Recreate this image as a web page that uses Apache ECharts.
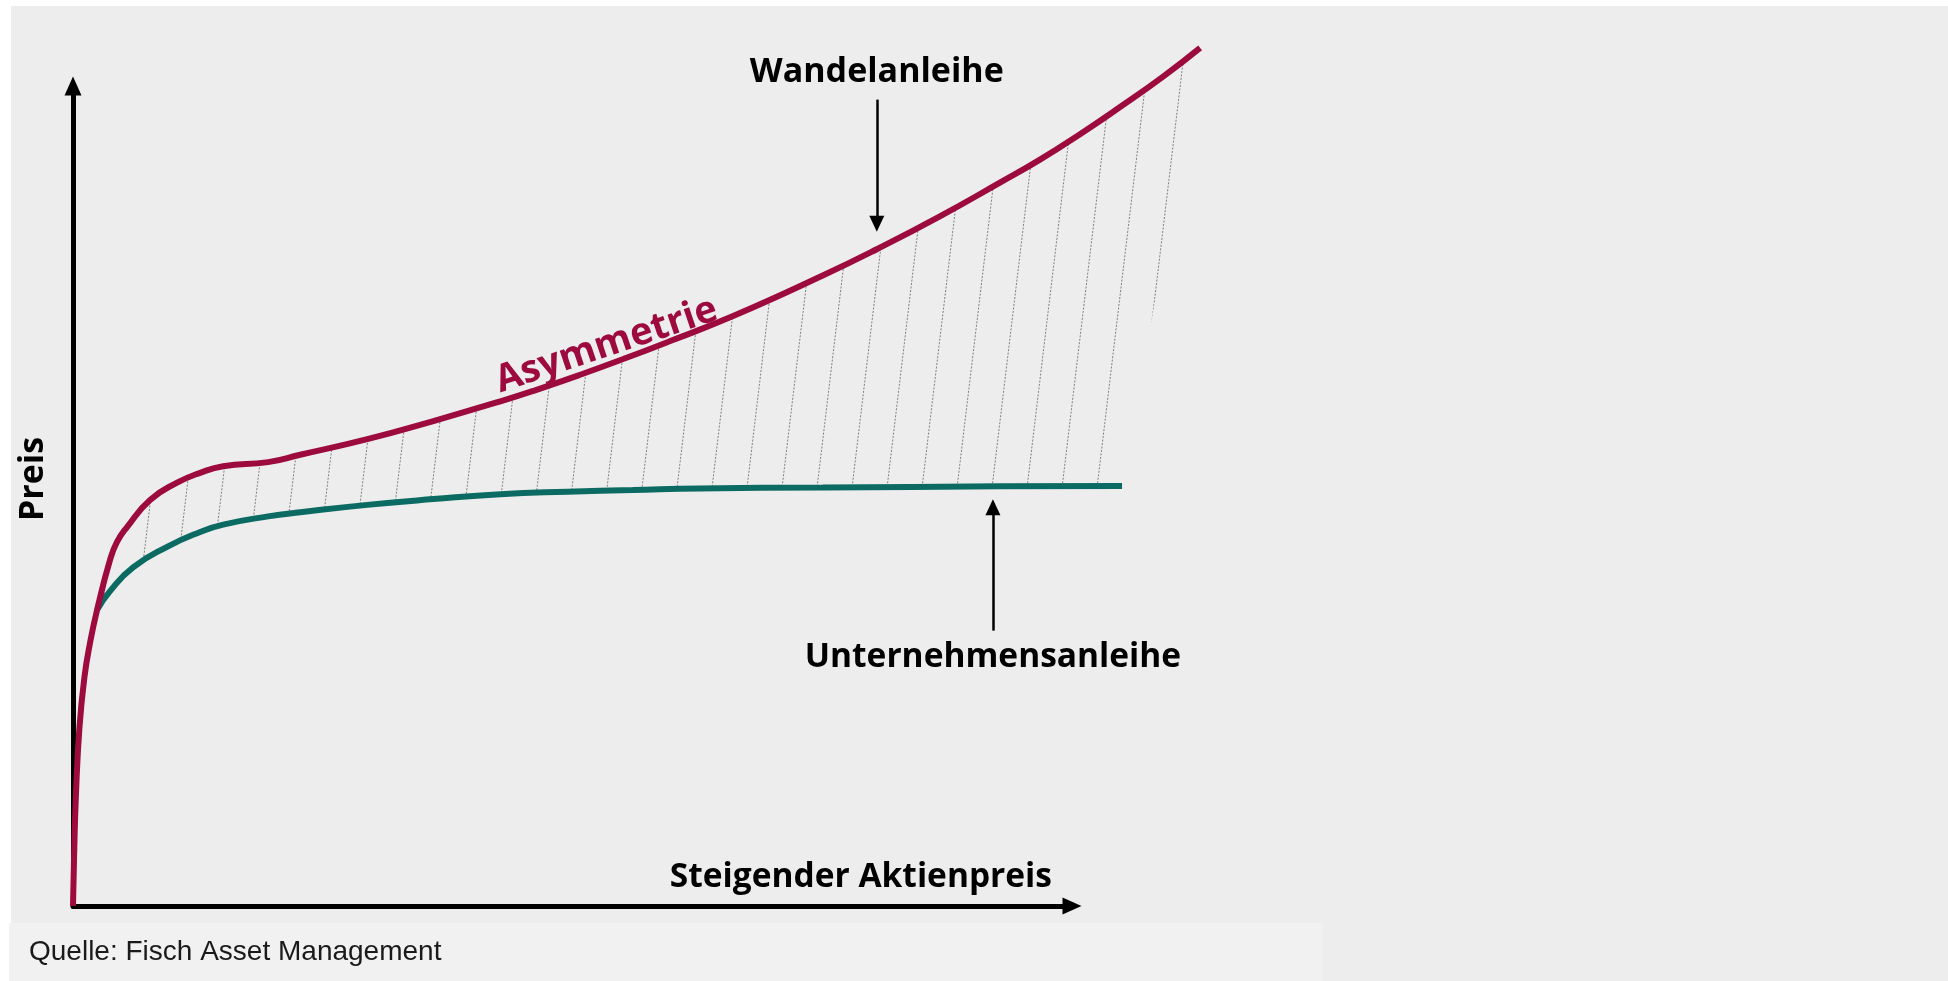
<!DOCTYPE html>
<html>
<head>
<meta charset="utf-8">
<title>Wandelanleihe und Unternehmensanleihe</title>
<script src="https://cdn.jsdelivr.net/npm/echarts@6/dist/echarts.min.js"></script>
<style>
  html, body { margin: 0; padding: 0; background: #ffffff; }
  #figureWrapper { width: 1948px; height: 981px; }
</style>
</head>
<body>
<div id="figureWrapper"></div>
<script>
// curves, in axis units (x: share price, y: price; the drawn axes end at 100)
const wandelanleihe = [
  [0, 0], [0.1, 5.6], [0.3, 13.7], [0.65, 21.8], [1.15, 27.9], [1.7, 32.0], [2.4, 36.0],
  [3.7, 42.1], [4.4, 44.3], [5.4, 46.1], [7.7, 49.4], [10.4, 51.5], [12.7, 52.7], [15.0, 53.5],
  [19.5, 54.0], [22.7, 54.9], [29.4, 56.8], [36.0, 59.0], [42.7, 61.4], [46.3, 62.8],
  [50.6, 64.6], [55.1, 66.6], [59.6, 68.7], [66.0, 71.8], [74.9, 76.7], [80.3, 79.9],
  [86.6, 83.9], [92.6, 88.0], [96.6, 90.8], [100.6, 93.9], [104.6, 97.2], [108.9, 100.9],
  [112.6, 104.4]
];
const unternehmensanleihe = [
  [2.4, 36.0], [3.7, 38.3], [6.0, 41.2], [9.4, 43.7], [12.7, 45.5], [15.0, 46.4],
  [19.5, 47.4], [22.7, 47.9], [29.4, 48.8], [36.0, 49.5], [42.7, 50.1], [49.4, 50.4],
  [55.9, 50.6], [62.6, 50.8], [74.9, 50.9], [92.6, 51.05], [104.8, 51.1]
];

// annotation anchors, axis units: [x, y tail, y head]
const wandelArrow = [80.3, 98.1, 83.0];
const anleiheArrow = [91.9, 33.5, 48.5];
const asymmetrieAt = [53.3, 68.2];

const seriesNames = ['Wandelanleihe', 'Unternehmensanleihe'];
const xTitle = 'Steigender Aktienpreis';
const yTitle = 'Preis';
const gapTitle = 'Asymmetrie';
const sourceNote = 'Quelle: Fisch Asset Management';

const red = '#9c0a3e';
const teal = '#0b6b63';
const labelFont = '"Open Sans", "DejaVu Sans", sans-serif';

// dotted slanted lines used to fill the area between the two curves
function makeHatch() {
  const w = 35, h = 292;
  const c = document.createElement('canvas');
  c.width = w;
  c.height = h;
  const ctx = c.getContext('2d');
  ctx.strokeStyle = '#7f7f7f';
  ctx.lineWidth = 1;
  ctx.setLineDash([2, 1.5]);
  for (const x0 of [-w, 0, w]) {
    ctx.beginPath();
    ctx.moveTo(x0 + 0.5, h);
    ctx.lineTo(x0 + w + 0.5, 0);
    ctx.stroke();
  }
  return c;
}
const hatch = makeHatch();

function renderHatch(params, api) {
  const start = wandelanleihe.findIndex((p) => p[0] >= unternehmensanleihe[0][0]);
  const upper = wandelanleihe.slice(start).map((p) => api.coord(p));
  const lower = unternehmensanleihe.slice().reverse().map((p) => api.coord(p));
  return {
    type: 'polygon',
    silent: true,
    shape: { points: upper.concat(lower), smooth: 0 },
    style: { fill: { image: hatch, repeat: 'repeat' }, stroke: null }
  };
}

function arrowLine(a, text, fontSize) {
  return {
    silent: true,
    symbol: ['none', 'triangle'],
    symbolSize: [15, 16],
    lineStyle: { color: '#000', width: 2.5, type: 'solid' },
    label: {
      show: true,
      position: 'start',
      distance: 10,
      formatter: text,
      color: '#000',
      fontFamily: labelFont,
      fontWeight: 'bold',
      fontSize: fontSize
    },
    emphasis: { disabled: true },
    data: [[{ coord: [a[0], a[1]] }, { coord: [a[0], a[2]] }]]
  };
}

const axisLine = {
  show: true,
  onZero: false,
  symbol: ['none', 'triangle'],
  symbolSize: [17, 19],
  lineStyle: { color: '#000', width: 5 }
};

let myChart = echarts.init(document.getElementById('figureWrapper'));

let option = {
  animation: false,
  backgroundColor: '#ffffff',
  graphic: [
    { type: 'rect', z: -10, silent: true, shape: { x: 11, y: 6, width: 1937, height: 917 }, style: { fill: '#ededed' } },
    { type: 'rect', z: -10, silent: true, shape: { x: 9, y: 923, width: 1314, height: 58 }, style: { fill: '#f1f1f1' } },
    { type: 'rect', z: -10, silent: true, shape: { x: 1323, y: 923, width: 625, height: 58 }, style: { fill: '#ededed' } },
    {
      type: 'text', z: 10, silent: true, x: 29, y: 952,
      style: { text: sourceNote, fill: '#1a1a1a', font: '28px "Liberation Sans", Arial, sans-serif', verticalAlign: 'middle' }
    }
  ],
  grid: [
    // the drawn axes with their arrows
    { left: 73, right: 876, top: 86, bottom: 75, containLabel: false, outerBoundsMode: 'none' },
    // same scale, larger extent, so the curves may run past the arrow heads
    { left: 73, bottom: 75, width: 1201.2, height: 904.2, containLabel: false, outerBoundsMode: 'none' }
  ],
  xAxis: [
    {
      gridIndex: 0,
      type: 'value',
      min: 0,
      max: 100,
      name: xTitle,
      nameLocation: 'end',
      nameGap: -20,
      nameTextStyle: {
        align: 'right', verticalAlign: 'bottom', padding: [0, 0, 12, 0],
        color: '#000', fontFamily: labelFont, fontWeight: 'bold', fontSize: 33.5
      },
      axisLine: axisLine,
      axisTick: { show: false },
      axisLabel: { show: false },
      splitLine: { show: false }
    },
    { gridIndex: 1, type: 'value', min: 0, max: 120, show: false }
  ],
  yAxis: [
    {
      gridIndex: 0,
      type: 'value',
      min: 0,
      max: 100,
      name: yTitle,
      nameLocation: 'middle',
      nameGap: 23,
      nameTextStyle: {
        padding: [0, 0, 0, 34],
        color: '#000', fontFamily: labelFont, fontWeight: 'bold', fontSize: 34
      },
      axisLine: axisLine,
      axisTick: { show: false },
      axisLabel: { show: false },
      splitLine: { show: false }
    },
    { gridIndex: 1, type: 'value', min: 0, max: 110, show: false }
  ],
  series: [
    {
      name: 'hatch',
      type: 'custom',
      xAxisIndex: 1,
      yAxisIndex: 1,
      z: 1,
      silent: true,
      renderItem: renderHatch,
      data: [[0, 0]]
    },
    {
      name: seriesNames[1],
      type: 'line',
      xAxisIndex: 1,
      yAxisIndex: 1,
      z: 3,
      showSymbol: false,
      smooth: 0.5,
      lineStyle: { color: teal, width: 6 },
      data: unternehmensanleihe,
      markLine: arrowLine(anleiheArrow, seriesNames[1], 33.5)
    },
    {
      name: seriesNames[0],
      type: 'line',
      xAxisIndex: 1,
      yAxisIndex: 1,
      z: 4,
      showSymbol: false,
      smooth: 0.5,
      lineStyle: { color: red, width: 6 },
      data: wandelanleihe,
      markLine: arrowLine(wandelArrow, seriesNames[0], 34),
      markPoint: {
        silent: true,
        symbol: 'circle',
        symbolSize: 1,
        itemStyle: { color: 'rgba(0,0,0,0)' },
        label: {
          show: true,
          position: 'inside',
          formatter: gapTitle,
          rotate: 18.5,
          color: red,
          fontFamily: labelFont,
          fontWeight: 'bold',
          fontSize: 38
        },
        data: [{ coord: asymmetrieAt }]
      }
    }
  ]
};

myChart.setOption(option);

window.addEventListener('resize', function () {
  myChart.resize();
});
</script>
</body>
</html>
